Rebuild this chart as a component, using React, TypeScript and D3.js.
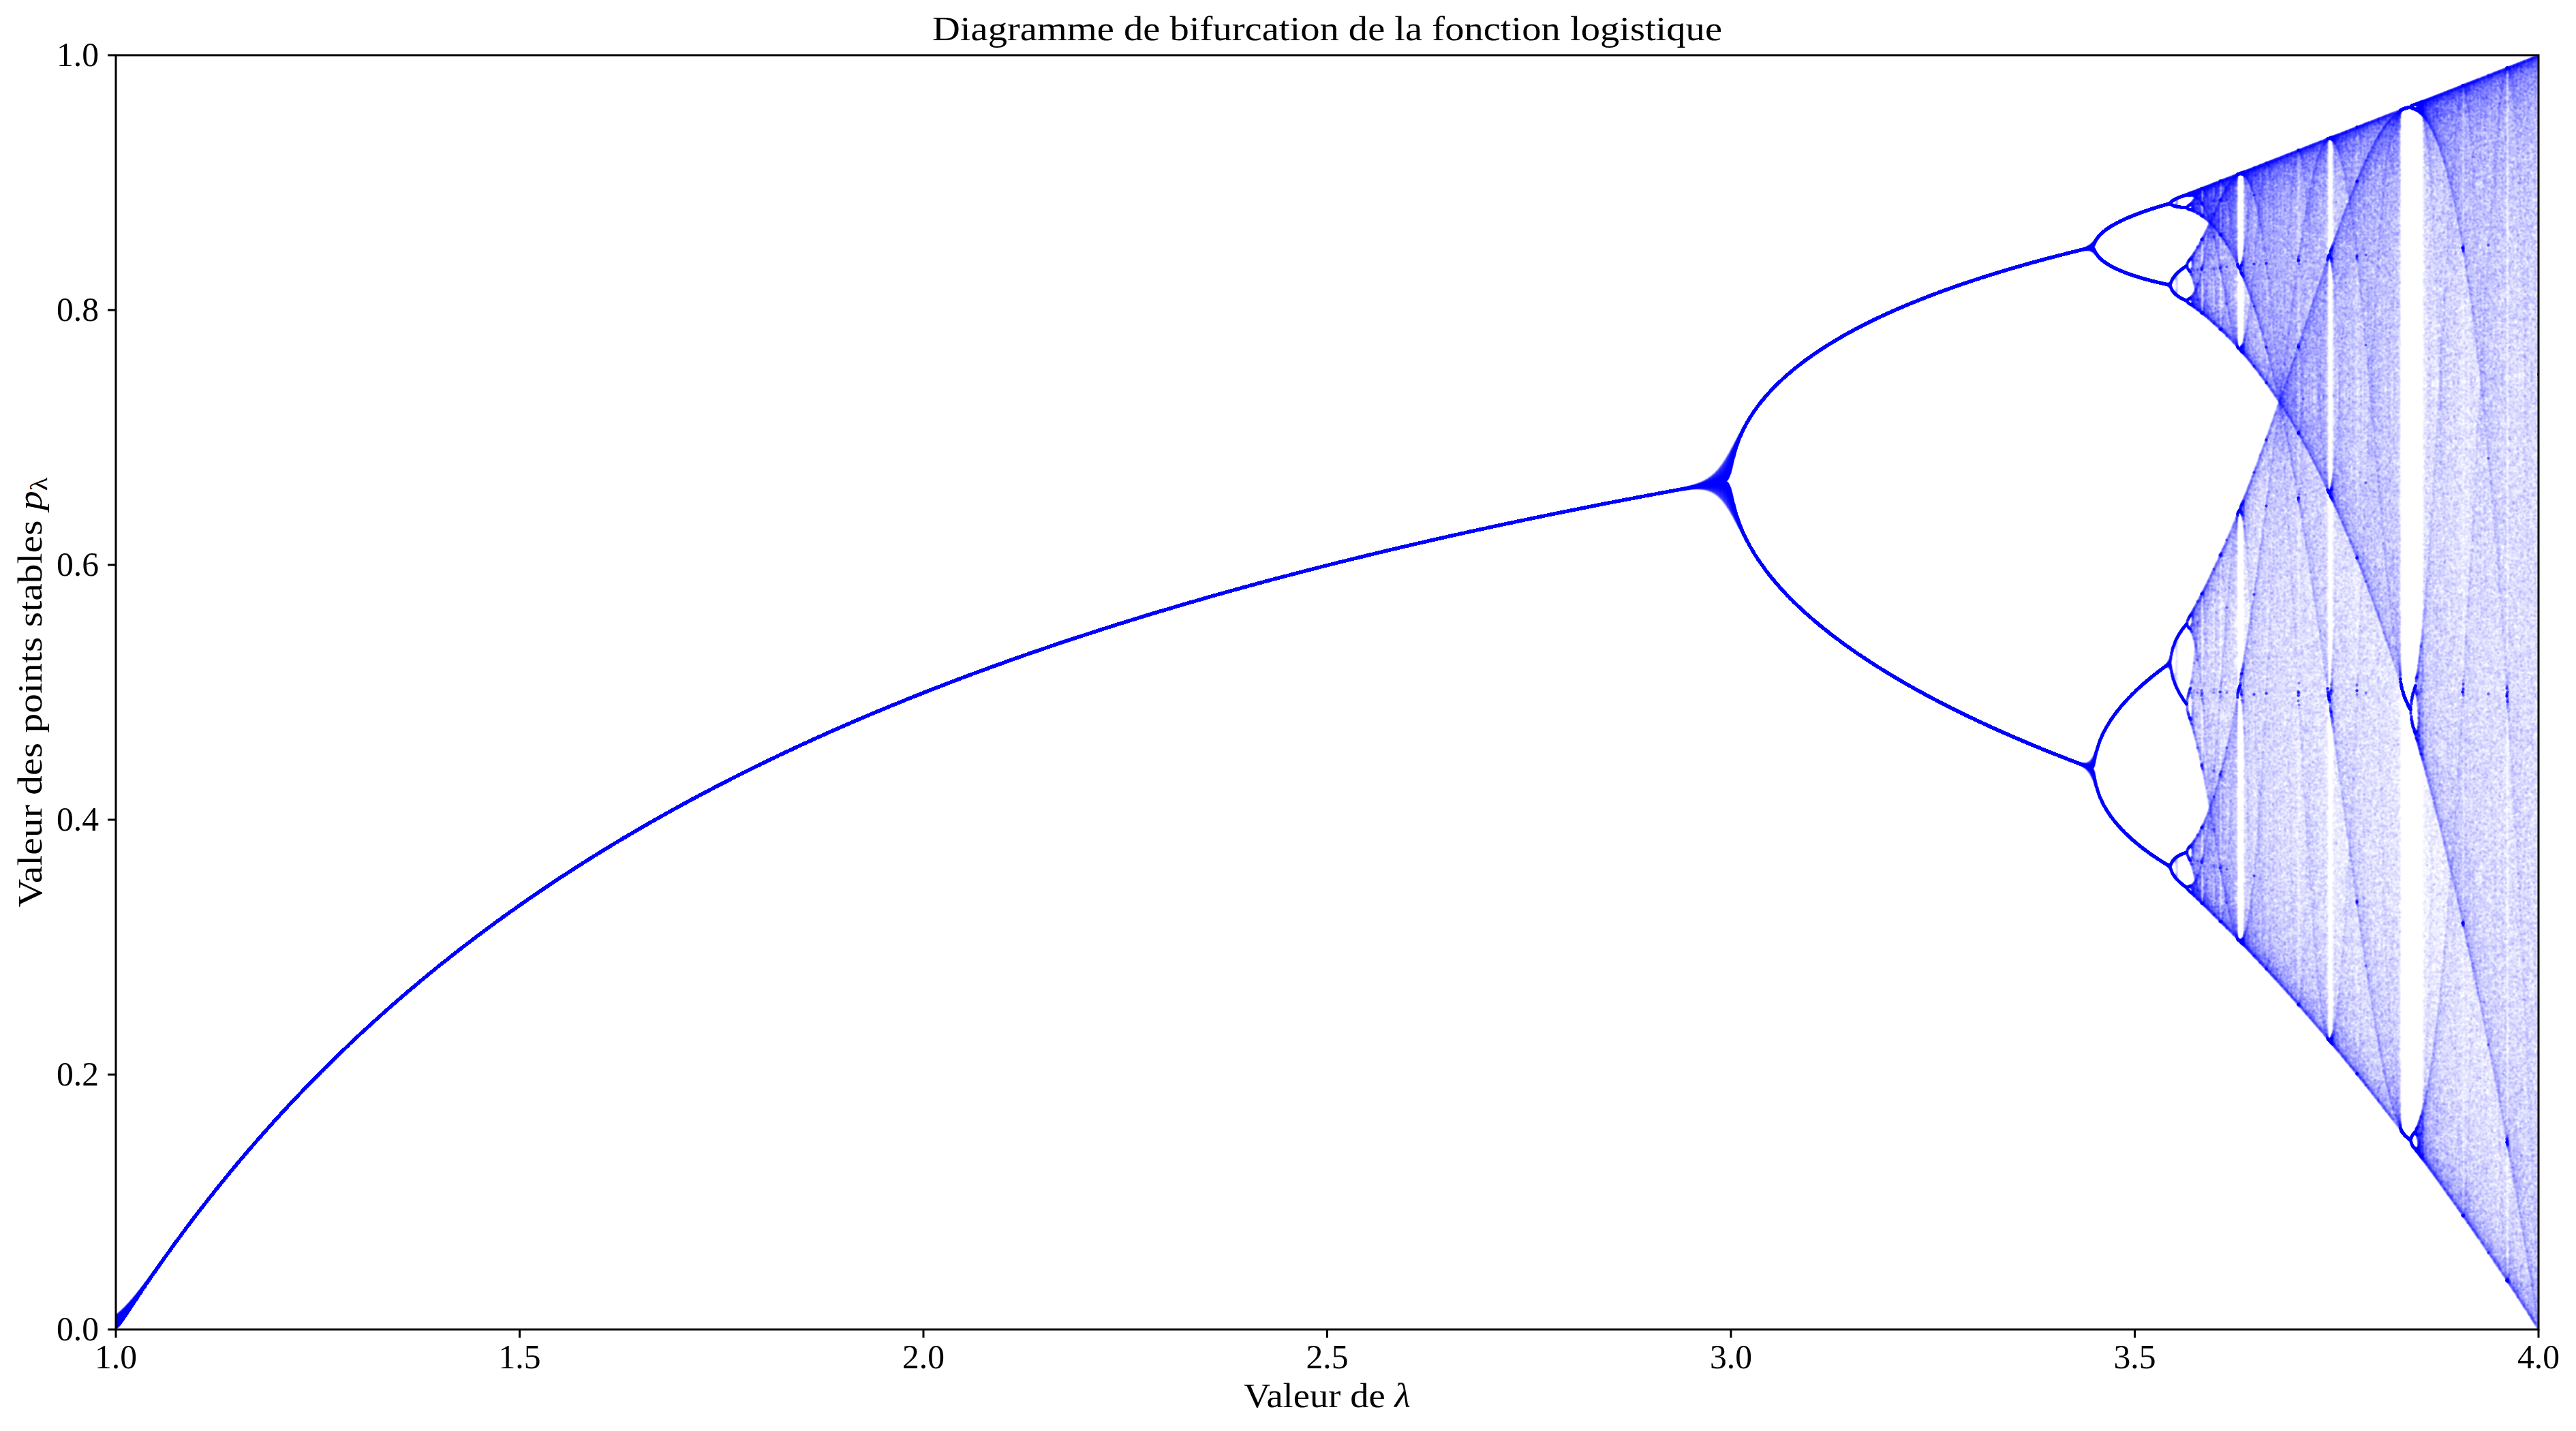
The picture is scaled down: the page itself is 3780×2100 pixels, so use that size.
import React, { useEffect, useState } from 'react';
import * as d3 from 'd3';

// ---- figure geometry ----
const W = 3780;
const H = 2100;
const PLOT_LEFT = 170;
const PLOT_RIGHT = 3725;
const PLOT_TOP = 81;
const PLOT_BOTTOM = 1951;

// ---- chart data / parameters ----
const LAMBDA_DOMAIN: [number, number] = [1, 4];
const P_DOMAIN: [number, number] = [0, 1];
const X_TICKS = [1.0, 1.5, 2.0, 2.5, 3.0, 3.5, 4.0];
const Y_TICKS = [0.0, 0.2, 0.4, 0.6, 0.8, 1.0];
const N_LAMBDA = 10000; // number of λ samples across the domain
const N_ITER = 500; // iterations of p -> λ p (1 - p)
const N_SKIP = 80; // transient iterations not plotted
const P_START = 0.25; // initial value p0
const TITLE = 'Diagramme de bifurcation de la fonction logistique';
const X_LABEL = 'Valeur de ';
const Y_LABEL = 'Valeur des points stables ';

// ---- style ----
const FONT = "'Liberation Serif', 'DejaVu Serif', serif";
const FONT_SIZE = 51;
const POINT_ALPHA = 0.026;
const POINT_RADIUS = 2;

const xScale = d3.scaleLinear().domain(LAMBDA_DOMAIN).range([PLOT_LEFT, PLOT_RIGHT]);
const yScale = d3.scaleLinear().domain(P_DOMAIN).range([PLOT_BOTTOM, PLOT_TOP]);
const fmt = d3.format('.1f');

function renderPoints(): string {
  const pw = PLOT_RIGHT - PLOT_LEFT;
  const ph = PLOT_BOTTOM - PLOT_TOP;
  const acc = new Float32Array(pw * ph);
  // kernel for an anti-aliased disk marker
  const kdx: number[] = [];
  const kdy: number[] = [];
  const kw: number[] = [];
  const R = Math.ceil(POINT_RADIUS + 1);
  for (let dy = -R; dy <= R; dy++) {
    for (let dx = -R; dx <= R; dx++) {
      const d = Math.sqrt(dx * dx + dy * dy);
      const w = Math.max(0, Math.min(1, POINT_RADIUS + 0.5 - d));
      if (w > 0) {
        kdx.push(dx);
        kdy.push(dy);
        kw.push(w);
      }
    }
  }
  const K = kw.length;
  const lambdas = d3.range(N_LAMBDA).map(
    (i) => LAMBDA_DOMAIN[0] + ((LAMBDA_DOMAIN[1] - LAMBDA_DOMAIN[0]) * i) / (N_LAMBDA - 1)
  );
  for (const lam of lambdas) {
    const cx = Math.round(xScale(lam) - PLOT_LEFT);
    let p = P_START;
    for (let n = 0; n < N_ITER; n++) {
      p = lam * p * (1 - p);
      if (n < N_SKIP) continue;
      const cy = Math.round(yScale(p) - PLOT_TOP);
      for (let k = 0; k < K; k++) {
        const xx = cx + kdx[k];
        const yy = cy + kdy[k];
        if (xx < 0 || xx >= pw || yy < 0 || yy >= ph) continue;
        acc[yy * pw + xx] += kw[k];
      }
    }
  }
  const canvas = document.createElement('canvas');
  canvas.width = pw;
  canvas.height = ph;
  const ctx = canvas.getContext('2d')!;
  const img = ctx.createImageData(pw, ph);
  const lg = Math.log(1 - POINT_ALPHA);
  for (let i = 0; i < pw * ph; i++) {
    const t = acc[i] > 0 ? Math.exp(acc[i] * lg) : 1;
    const v = Math.round(255 * t);
    img.data[i * 4] = v;
    img.data[i * 4 + 1] = v;
    img.data[i * 4 + 2] = 255;
    img.data[i * 4 + 3] = 255;
  }
  ctx.putImageData(img, 0, 0);
  return canvas.toDataURL('image/png');
}

export default function App() {
  const [href, setHref] = useState<string | null>(null);
  useEffect(() => {
    setHref(renderPoints());
  }, []);

  const tickLen = 12;
  const stroke = 3;

  return (
    <svg
      width={W}
      height={H}
      viewBox={`0 0 ${W} ${H}`}
      style={{ position: 'absolute', left: 0, top: 0, display: 'block', background: '#fff' }}
      fontFamily={FONT}
    >
      <rect x={0} y={0} width={W} height={H} fill="#fff" />
      {href && (
        <image
          href={href}
          x={PLOT_LEFT}
          y={PLOT_TOP}
          width={PLOT_RIGHT - PLOT_LEFT}
          height={PLOT_BOTTOM - PLOT_TOP}
          preserveAspectRatio="none"
        />
      )}
      {/* x ticks */}
      {X_TICKS.map((t) => (
        <g key={'x' + t}>
          <line
            x1={xScale(t)}
            x2={xScale(t)}
            y1={PLOT_BOTTOM}
            y2={PLOT_BOTTOM + tickLen}
            stroke="#000"
            strokeWidth={stroke}
          />
          <text
            x={xScale(t)}
            y={2008}
            textAnchor="middle"
            fontSize={FONT_SIZE}
            fill="#000"
            textLength={62}
            lengthAdjust="spacingAndGlyphs"
          >
            {fmt(t)}
          </text>
        </g>
      ))}
      {/* y ticks */}
      {Y_TICKS.map((t) => (
        <g key={'y' + t}>
          <line
            x1={PLOT_LEFT - tickLen}
            x2={PLOT_LEFT}
            y1={yScale(t)}
            y2={yScale(t)}
            stroke="#000"
            strokeWidth={stroke}
          />
          <text
            x={145}
            y={yScale(t) + 16}
            textAnchor="end"
            fontSize={FONT_SIZE}
            fill="#000"
            textLength={62}
            lengthAdjust="spacingAndGlyphs"
          >
            {fmt(t)}
          </text>
        </g>
      ))}
      {/* spines */}
      <rect
        x={PLOT_LEFT}
        y={PLOT_TOP}
        width={PLOT_RIGHT - PLOT_LEFT}
        height={PLOT_BOTTOM - PLOT_TOP}
        fill="none"
        stroke="#000"
        strokeWidth={stroke}
      />
      {/* title */}
      <text
        x={(PLOT_LEFT + PLOT_RIGHT) / 2}
        y={59}
        textAnchor="middle"
        fontSize={FONT_SIZE}
        fill="#000"
        textLength={1159}
        lengthAdjust="spacingAndGlyphs"
      >
        {TITLE}
      </text>
      {/* x label */}
      <text
        x={(PLOT_LEFT + PLOT_RIGHT) / 2}
        y={2065}
        textAnchor="middle"
        fontSize={FONT_SIZE}
        fill="#000"
        textLength={245}
        lengthAdjust="spacingAndGlyphs"
      >
        {X_LABEL}
        <tspan fontStyle="italic">λ</tspan>
      </text>
      {/* y label */}
      <text
        transform={`translate(61, ${(PLOT_TOP + PLOT_BOTTOM) / 2}) rotate(-90)`}
        textAnchor="middle"
        fontSize={FONT_SIZE}
        fill="#000"
        textLength={631}
        lengthAdjust="spacingAndGlyphs"
      >
        {Y_LABEL}
        <tspan fontStyle="italic">p</tspan>
        <tspan fontSize={36} dy={8}>λ</tspan>
      </text>
    </svg>
  );
}
